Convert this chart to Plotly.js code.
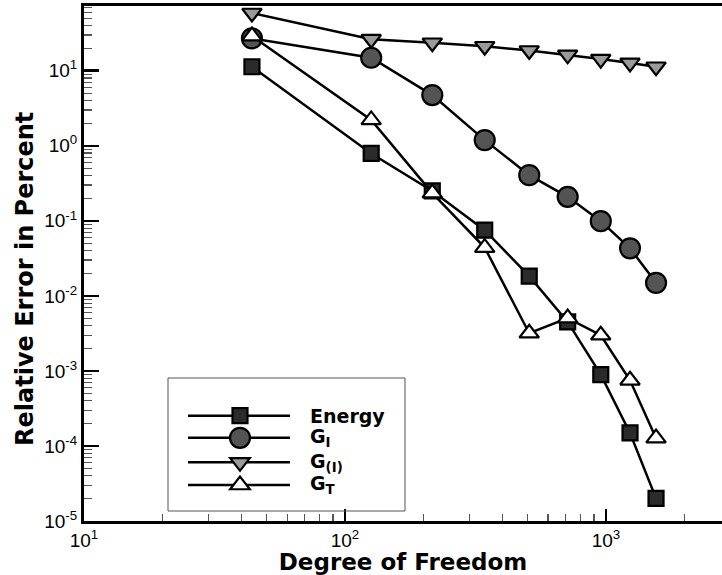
<!DOCTYPE html>
<html><head><meta charset="utf-8">
<script src="https://cdn.plot.ly/plotly-3.0.1.min.js"></script>
<style>html,body{margin:0;padding:0;background:#fff}#chart{width:722px;height:575px}</style>
</head><body><div id="chart"></div>
<script>
// ---- data ----
const dof      = [44, 126, 216, 343, 508, 713, 955, 1236, 1555];
const energy   = [11.3, 0.79, 0.25, 0.075, 0.0183, 0.0045, 8.9e-4, 1.49e-4, 2.0e-5];
const gI       = [27.0, 14.9, 4.74, 1.19, 0.406, 0.209, 0.099, 0.043, 0.0149];
const gParenI  = [58.8, 26.3, 23.6, 21.2, 18.6, 16.3, 14.3, 12.7, 11.3];
const gT       = [29.0, 2.21, 0.234, 0.044, 0.00318, 0.00505, 0.00299, 7.5e-4, 1.27e-4];
const seriesNames = ['Energy', 'G<sub>I</sub>', 'G<sub>(I)</sub>', 'G<sub>T</sub>'];
const xTickExp = [1, 2, 3];
const yTickExp = [-5, -4, -3, -2, -1, 0, 1];
const xTitle = 'Degree of Freedom';
const yTitle = 'Relative Error in Percent';

// ---- styles ----
const styles = [
  {symbol: 'square',        size: 15, fill: '#2b2b2b'},
  {symbol: 'circle',        size: 20, fill: '#545454'},
  {symbol: 'triangle-down', size: 17, fill: '#9a9a9a'},
  {symbol: 'triangle-up',   size: 17, fill: '#ffffff'}
];
const seriesY = [energy, gI, gParenI, gT];

const traces = seriesY.map((ys, i) => ({
  type: 'scatter', mode: 'lines+markers', name: seriesNames[i],
  x: dof, y: ys,
  line: {color: '#000', width: 2.5},
  marker: {symbol: styles[i].symbol, size: styles[i].size, color: styles[i].fill,
           line: {color: '#000', width: 2.2}},
  showlegend: false
}));

function minorVals(e0, e1) {
  const v = [];
  for (let e = e0; e <= e1; e++) for (let d = 2; d <= 9; d++) v.push(d * Math.pow(10, e));
  return v;
}
const supText = e => '10<sup>' + (e < 0 ? '-' + (-e) : e) + '</sup>';

const tickFont = {family: 'Liberation Sans, Arial, sans-serif', size: 19, color: '#000'};
const boldFont = (s) => ({family: 'DejaVu Sans, sans-serif', size: s, color: '#000', weight: 'bold'});

// ---- legend (drawn as decoration in paper coordinates) ----
const L = 84, R = 722, T = 6, B = 521;
const px = x => (x - L) / (R - L);
const py = y => (B - y) / (B - T);
const legRows = [415.7, 437.8, 462.3, 485];
const shapes = [
  {type: 'rect', xref: 'paper', yref: 'paper', x0: px(168), x1: px(405), y0: py(511), y1: py(378),
   line: {color: '#555', width: 1}, fillcolor: 'rgba(0,0,0,0)'}
];
const annotations = [];
legRows.forEach((ry, i) => {
  shapes.push({type: 'line', xref: 'paper', yref: 'paper', x0: px(188), x1: px(290), y0: py(ry), y1: py(ry),
               line: {color: '#000', width: 2.5}});
  const base = {xref: 'paper', yref: 'paper', xsizemode: 'pixel', ysizemode: 'pixel',
                xanchor: px(240), yanchor: py(ry), fillcolor: styles[i].fill,
                line: {color: '#000', width: 2.2}};
  const h = styles[i].size / 2;
  if (styles[i].symbol === 'square') shapes.push(Object.assign({type: 'rect', x0: -h, x1: h, y0: -h, y1: h}, base));
  else if (styles[i].symbol === 'circle') shapes.push(Object.assign({type: 'circle', x0: -h, x1: h, y0: -h, y1: h}, base));
  else {
    const rt = h * 2 / Math.sqrt(3);
    const p = styles[i].symbol === 'triangle-down'
      ? `M${-rt},${h/2} L${rt},${h/2} L0,${-h} Z`
      : `M${-rt},${-h/2} L${rt},${-h/2} L0,${h} Z`;
    shapes.push(Object.assign({type: 'path', path: p}, base));
  }
  annotations.push({xref: 'paper', yref: 'paper', x: px(308), y: py(ry), xanchor: 'left', yanchor: 'middle',
                    text: seriesNames[i], showarrow: false, font: boldFont(19)});
});
// y axis title placed as in the reference (sits below the axis centre)
annotations.push({xref: 'paper', yref: 'paper', x: px(25), y: py(279), xanchor: 'center', yanchor: 'middle',
                  text: yTitle, textangle: -90, showarrow: false, font: boldFont(24)});

const layout = {
  width: 722, height: 575,
  margin: {l: L, r: 722 - R, t: T, b: 575 - B, pad: 0},
  paper_bgcolor: '#fff', plot_bgcolor: '#fff',
  showlegend: false,
  xaxis: {
    type: 'log', range: [1, 1 + (R - L) / 261],
    tickmode: 'array', tickvals: xTickExp.map(e => Math.pow(10, e)), ticktext: xTickExp.map(supText),
    ticks: 'inside', ticklen: 12, tickwidth: 2.5, tickcolor: '#000',
    minor: {tickmode: 'array', tickvals: minorVals(1, 3), ticks: 'inside', ticklen: 7, tickwidth: 1.2, tickcolor: '#555'},
    showline: true, linewidth: 3, linecolor: '#000', mirror: true,
    showgrid: false, zeroline: false, tickfont: tickFont,
    title: {text: xTitle, font: boldFont(23), standoff: 6}
  },
  yaxis: {
    type: 'log', range: [-5, 1 + (70.7 - T) / 75],
    tickmode: 'array', tickvals: yTickExp.map(e => Math.pow(10, e)), ticktext: yTickExp.map(supText),
    ticks: 'inside', ticklen: 15, tickwidth: 2.5, tickcolor: '#000',
    minor: {tickmode: 'array', tickvals: minorVals(-5, 1), ticks: 'inside', ticklen: 8, tickwidth: 1.2, tickcolor: '#555'},
    showline: true, linewidth: 3, linecolor: '#000', mirror: false,
    showgrid: false, zeroline: false, tickfont: tickFont
  },
  shapes: shapes,
  annotations: annotations
};

Plotly.newPlot('chart', traces, layout, {staticPlot: true, displayModeBar: false});
</script>
</body></html>
